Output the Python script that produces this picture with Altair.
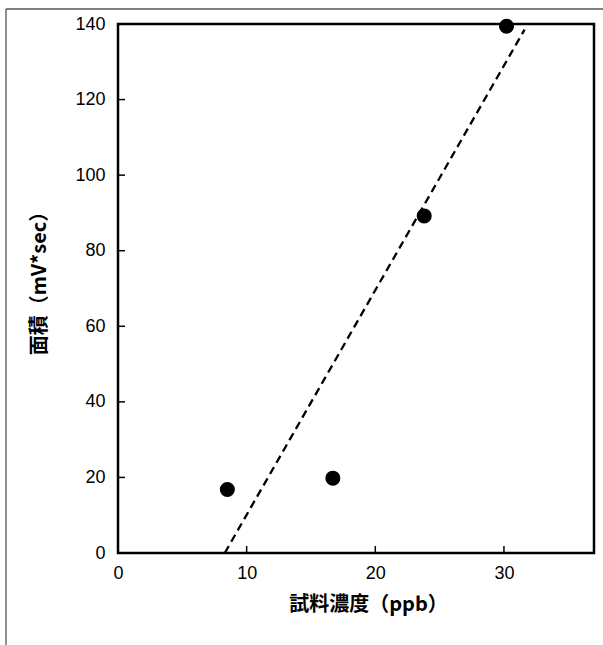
import altair as alt
import pandas as pd

# Measured sample concentration (ppb) and peak area (mV*sec)
conc = [8.5, 16.7, 23.8, 30.2]
area = [16.8, 19.8, 89.2, 139.4]

# Endpoints of the calibration trend line
fit_x = [8.3, 31.6]
fit_y = [0.0, 138.5]

x_ticks = [0, 10, 20, 30]
y_ticks = [0, 20, 40, 60, 80, 100, 120, 140]
x_inner_ticks = [10, 20, 30]
y_inner_ticks = [20, 40, 60, 80, 100, 120]

W, H = 476, 529
LABEL_FONT = "Liberation Sans"
TITLE_FONT = "Noto Sans CJK JP"

pts = pd.DataFrame({"x": conc, "y": area})
fit = pd.DataFrame({"x": fit_x, "y": fit_y})
xt = pd.DataFrame({"x": x_inner_ticks})
yt = pd.DataFrame({"y": y_inner_ticks})

xscale = alt.Scale(domain=[0, 37], nice=False, zero=False)
yscale = alt.Scale(domain=[0, 140], nice=False)

xaxis = alt.Axis(
    values=x_ticks, grid=False, ticks=False, domain=False,
    labelFont=LABEL_FONT, labelFontSize=18, labelColor="black",
    labelPadding=11, labelFlush=False,
    title="試料濃度（ppb）", titleFont=TITLE_FONT, titleFontSize=20,
    titleFontWeight="bold", titleColor="black",
    titleX=250, titleY=51, titleBaseline="middle", titleAnchor="middle",
)
yaxis = alt.Axis(
    values=y_ticks, grid=False, ticks=False, domain=False,
    labelFont=LABEL_FONT, labelFontSize=18, labelColor="black",
    labelPadding=13, labelFlush=False,
    title="面積（mV*sec）", titleFont=TITLE_FONT, titleFontSize=20,
    titleFontWeight="bold", titleColor="black", titleAngle=-90,
    titleX=-79, titleY=254, titleBaseline="middle", titleAlign="center",
)

line = alt.Chart(fit).mark_line(
    color="black", strokeWidth=2.3, strokeDash=[8, 5]
).encode(
    x=alt.X("x:Q", scale=xscale, axis=xaxis),
    y=alt.Y("y:Q", scale=yscale, axis=yaxis),
)

dots = alt.Chart(pts).mark_circle(
    color="black", opacity=1, size=227
).encode(x=alt.X("x:Q", scale=xscale), y=alt.Y("y:Q", scale=yscale))

# inward tick marks along the bottom and left edges of the frame
xtick_marks = alt.Chart(xt).mark_rule(color="black", strokeWidth=1.5).encode(
    x=alt.X("x:Q", scale=xscale), y=alt.value(H), y2=alt.value(H - 7)
)
ytick_marks = alt.Chart(yt).mark_rule(color="black", strokeWidth=1.5).encode(
    y=alt.Y("y:Q", scale=yscale), x=alt.value(0), x2=alt.value(7)
)

# outer figure border (top and left edges)
border_top = alt.Chart(pd.DataFrame({"k": [0]})).mark_rule(
    color="#555555", strokeWidth=1.3, clip=False
).encode(x=alt.value(-112), x2=alt.value(W + 20), y=alt.value(-15))
border_left = alt.Chart(pd.DataFrame({"k": [0]})).mark_rule(
    color="#555555", strokeWidth=1.3, clip=False
).encode(x=alt.value(-112), y=alt.value(-15), y2=alt.value(H + 120))

chart = alt.layer(
    border_top, border_left, line, xtick_marks, ytick_marks, dots
).properties(
    width=W, height=H,
    autosize=alt.AutoSizeParams(type="none"),
    padding={"left": 118, "top": 24, "right": 9, "bottom": 92},
    background="white",
).configure_view(
    stroke="black", strokeWidth=2.5
)

chart.save("out.html", embed_options={"renderer": "svg", "actions": False})
